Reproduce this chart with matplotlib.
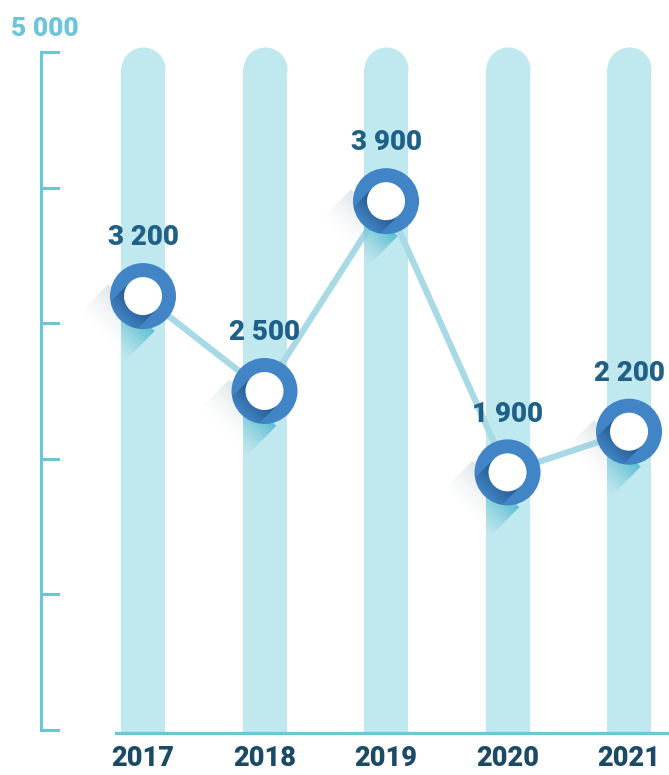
import numpy as np
import matplotlib
matplotlib.use("Agg")
import matplotlib.pyplot as plt
from matplotlib.patches import Circle, Polygon

years = ["2017", "2018", "2019", "2020", "2021"]
values = [3200, 2500, 3900, 1900, 2200]
labels = ["3 200", "2 500", "3 900", "1 900", "2 200"]
y_ticks = [0, 1000, 2000, 3000, 4000, 5000]
y_top_label = "5 000"

FONT = ["Roboto", "DejaVu Sans"]
WEIGHT = 900
BAR = "#c0e8ef"
LINE = "#a8dae6"
AXIS = "#6cc6d8"
RING = "#4285c7"
DARK = "#1b4a78"
VAL = "#1f6088"
YEAR = "#1a4a66"

fig = plt.figure(figsize=(6.69, 7.75), dpi=100)
ax = fig.add_axes([0, 0, 1, 1])
ax.set_xlim(-1.177, 4.329)
ax.set_ylim(-331.9, 5383.5)
ax.axis("off")

x = np.arange(len(years))

# background columns with round tops
bar_top = 4875
bars = ax.bar(x, bar_top + 22, bottom=-22, width=0.362, color=BAR, zorder=1)
ax.scatter(x, [bar_top] * len(x), s=31.7 ** 2, color=BAR, linewidths=0, zorder=1)

# connecting line
ax.plot(x, values, color=LINE, lw=4.5, zorder=2, solid_capstyle="round")

# axes
ax.plot([-0.222, 4.329], [-22, -22], color=AXIS, lw=2.3, zorder=3)
ax.plot([-0.84, -0.84], [0, 5000], color=AXIS, lw=2.2, zorder=3,
        solid_capstyle="projecting")
for t in y_ticks:
    ax.plot([-0.84, -0.70], [t, t], color=AXIS, lw=2.2, zorder=3,
            solid_capstyle="projecting")
ax.text(-0.81, 5170, y_top_label, ha="center", va="center", color=AXIS,
        fontsize=19, fontweight=WEIGHT, family=FONT)

for xi, yr in zip(x, years):
    ax.text(xi, -210, yr, ha="center", va="center", color=YEAR,
            fontsize=19.5, fontweight=WEIGHT, family=FONT)

for xi, v, lab in zip(x, values, labels):
    ax.annotate(lab, (xi, v), xytext=(0, 42), textcoords="offset points",
                ha="center", va="center", color=VAL, fontsize=20,
                fontweight=WEIGHT, family=FONT, zorder=5)

# marker overlay in pixel coordinates
ov = fig.add_axes([0, 0, 1, 1])
ov.set_xlim(0, 669)
ov.set_ylim(775, 0)
ov.axis("off")

R_OUT, R_IN = 33, 19
d = np.array([-1.0, 1.0]) / np.sqrt(2)
p = np.array([1.0, 1.0]) / np.sqrt(2)


def band(c, r, t0, t1):
    return [c + r * p + t0 * d, c - r * p + t0 * d,
            c - r * p + t1 * d, c + r * p + t1 * d]


for i, (xi, v) in enumerate(zip(x, values)):
    disp = ax.transData.transform((xi, v))
    c = ov.transData.inverted().transform(disp)
    # long shadow of the whole marker: faint grey on white, cyan on the column
    n = 24
    for k in range(n):
        t0 = R_OUT * 0.5 + k * 1.7
        a = (1 - k / n) ** 1.5
        ov.add_patch(Polygon(band(c, R_OUT, t0, t0 + 1.8), closed=True,
                             facecolor="#9db4bb", edgecolor="none",
                             alpha=0.3 * a, zorder=1))
        pc = Polygon(band(c, R_OUT, t0, t0 + 1.8), closed=True,
                     facecolor="#3dbad3", edgecolor="none",
                     alpha=0.75 * a, zorder=1.5)
        ov.add_patch(pc)
        pc.set_clip_path(bars.patches[i])
    # ring
    ring = Circle(c, R_OUT, facecolor=RING, edgecolor="none", zorder=2)
    ov.add_patch(ring)
    # inner shadow of the hole
    n = 20
    for k in range(n):
        t0 = k * 1.6
        a = 0.95 * (1 - k / n) ** 1.1
        pg = Polygon(band(c, R_IN, t0, t0 + 1.7), closed=True,
                     facecolor=DARK, edgecolor="none", alpha=a, zorder=3)
        ov.add_patch(pg)
        pg.set_clip_path(ring)
    ov.add_patch(Circle(c, R_IN, facecolor="white", edgecolor="none", zorder=4))

fig.savefig("out.png", dpi=100)
